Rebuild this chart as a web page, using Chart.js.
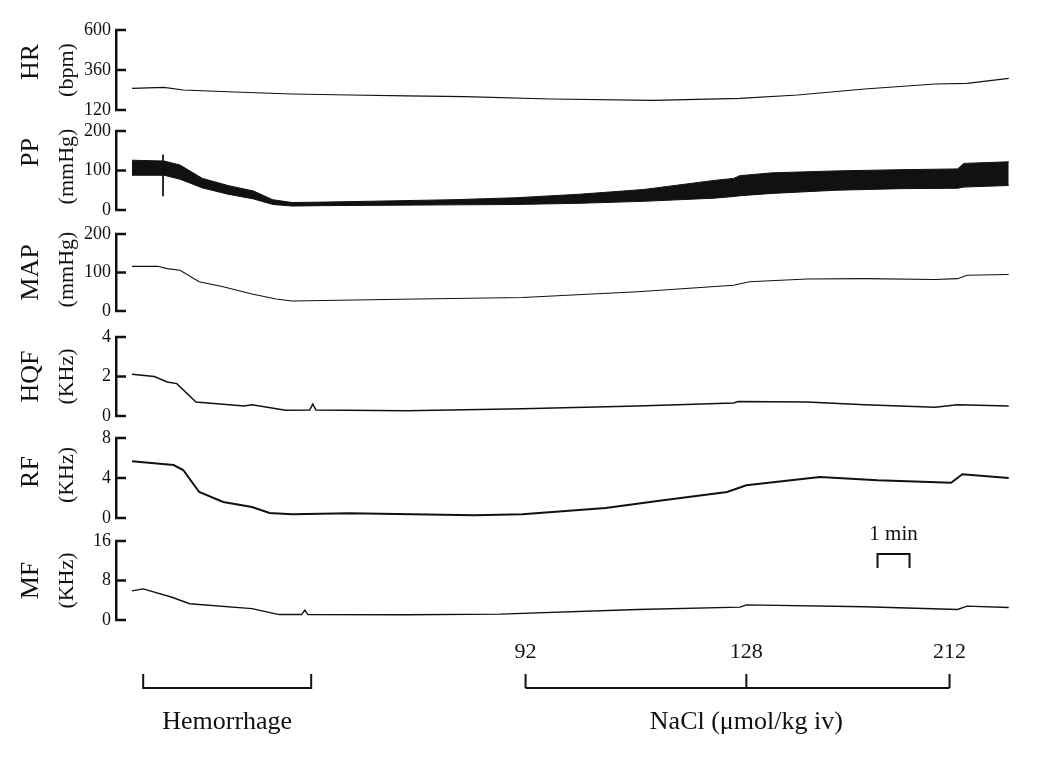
<!DOCTYPE html>
<html>
<head>
<meta charset="utf-8">
<title>Hemorrhage / NaCl recordings</title>
<script src="https://cdn.jsdelivr.net/npm/chart.js@4.4.1/dist/chart.umd.min.js"></script>
<style>
  body { margin: 0; background: #fff; }
  #wrap { position: relative; width: 1050px; height: 758px; overflow: hidden; background: #fff; }
  #wrap canvas { position: absolute; left: 0; }
</style>
</head>
<body>
<div id="wrap">
  <canvas id="hrChart"></canvas>
  <canvas id="ppChart"></canvas>
  <canvas id="mapChart"></canvas>
  <canvas id="hqfChart"></canvas>
  <canvas id="rfChart"></canvas>
  <canvas id="mfChart"></canvas>
</div>
<script>
// ===== DATA (time in minutes from start of recording) =====
const hrTime   = [0, 1.0, 1.6, 3.2, 5.0, 6.8, 8.6, 10.4, 13.1, 16.3, 19.0, 20.8, 22.9, 25.1, 26.1, 27.4];
const hrValues = [250, 256, 240, 228, 216, 210, 205, 200, 186, 178, 190, 210, 246, 276, 280, 310];

const ppTime  = [0, 1.0, 1.5, 2.2, 3.0, 3.8, 4.4, 5.0, 6.0, 8.0, 10.0, 12.0, 14.0, 16.0, 18.2, 18.8, 19.0, 20.0, 22.0, 24.0, 25.8, 26.0, 27.4];
const ppUpper = [126, 124, 114, 80, 62, 48, 26, 19, 20, 23, 26, 31, 40, 52, 75, 80, 87, 94, 99, 102, 104, 118, 122];
const ppLower = [88, 88, 78, 56, 40, 28, 14, 10, 11, 12, 13, 14, 17, 22, 30, 34, 36, 42, 50, 54, 55, 58, 62];
const ppArtifactTime = [0.97, 0.97];
const ppArtifact     = [140, 35];

const mapTime   = [0, 0.8, 1.1, 1.5, 2.1, 2.85, 3.75, 4.5, 5.0, 8.9, 12.2, 15.8, 18.8, 19.3, 21.1, 22.9, 25.1, 25.8, 26.1, 27.4];
const mapValues = [116, 116, 110, 106, 76, 63, 44, 31, 26, 31, 35, 50, 67, 76, 83, 84, 82, 84, 93, 95];

const hqfTime   = [0, 0.7, 1.1, 1.4, 2.0, 3.5, 3.75, 4.8, 5.55, 5.65, 5.75, 8.6, 12.2, 15.8, 18.8, 18.95, 21.1, 22.9, 25.1, 25.8, 27.4];
const hqfValues = [2.12, 2.0, 1.72, 1.64, 0.71, 0.51, 0.57, 0.29, 0.30, 0.6, 0.30, 0.27, 0.37, 0.51, 0.66, 0.73, 0.71, 0.57, 0.44, 0.57, 0.51];

const rfTime   = [0, 1.3, 1.6, 2.1, 2.85, 3.75, 4.3, 5.0, 6.8, 10.7, 12.2, 14.8, 16.6, 18.6, 19.2, 21.5, 23.3, 25.6, 25.95, 27.4];
const rfValues = [5.67, 5.3, 4.8, 2.6, 1.6, 1.1, 0.5, 0.37, 0.47, 0.27, 0.37, 1.0, 1.77, 2.6, 3.27, 4.1, 3.77, 3.53, 4.37, 4.0];

const mfTime   = [0, 0.35, 1.25, 1.8, 3.75, 4.6, 5.3, 5.4, 5.5, 8.6, 11.5, 15.8, 19.0, 19.2, 22.9, 25.8, 26.1, 27.4];
const mfValues = [5.9, 6.3, 4.6, 3.3, 2.3, 1.1, 1.1, 2.0, 1.1, 1.07, 1.2, 2.13, 2.6, 3.07, 2.67, 2.13, 2.8, 2.53];

// axis ranges: [min, max, step]
const hrTicks  = [120, 600, 240];
const ppTicks  = [0, 200, 100];
const mapTicks = [0, 200, 100];
const hqfTicks = [0, 4, 2];
const rfTicks  = [0, 8, 4];
const mfTicks  = [0, 16, 8];

// protocol markers (minutes)
const hemorrhageSpan  = [0.35, 5.6];
const naclDoseTimes   = [12.3, 19.2, 25.55];
const naclDoseLabels  = ['92', '128', '212'];
const scaleBarSpan    = [23.3, 24.3];


// ===== HELPERS =====
const SERIF = '"Liberation Serif", "Times New Roman", serif';
const INK = '#111';

function points(times, values) {
  return times.map((t, i) => ({ x: t, y: values[i] }));
}

function drawVertical(ctx, text, x, y, font) {
  ctx.save();
  ctx.translate(x, y);
  ctx.rotate(-Math.PI / 2);
  ctx.font = font;
  ctx.textAlign = 'center';
  ctx.textBaseline = 'middle';
  ctx.fillText(text, 0, 0);
  ctx.restore();
}

// short tick marks pointing into the plot, like the original recorder axes
const tickStubs = {
  id: 'tickStubs',
  afterDraw(chart) {
    const ctx = chart.ctx;
    const y = chart.scales.y;
    ctx.save();
    ctx.strokeStyle = INK;
    ctx.lineWidth = 2.5;
    y.ticks.forEach(t => {
      const py = y.getPixelForValue(t.value);
      ctx.beginPath();
      ctx.moveTo(y.right - 1, py);
      ctx.lineTo(y.right + 10, py);
      ctx.stroke();
    });
    ctx.restore();
  }
};

// rotated channel name + unit at the left; nameShift/unitShift nudge them up or down
const panelLabel = {
  id: 'panelLabel',
  afterDraw(chart, args, opts) {
    const { ctx, chartArea } = chart;
    const midY = (chartArea.top + chartArea.bottom) / 2;
    ctx.save();
    ctx.fillStyle = INK;
    drawVertical(ctx, opts.name, 31, midY + (opts.nameShift || 0), '26px ' + SERIF);
    drawVertical(ctx, opts.unit, 67, midY + (opts.unitShift || 0), '22px ' + SERIF);
    ctx.restore();
  }
};

// brackets under the traces + the 1 min scale bar
const protocolMarks = {
  id: 'protocolMarks',
  afterDraw(chart) {
    const { ctx, chartArea } = chart;
    const x = chart.scales.x;
    const base = chartArea.bottom;
    const lineY = base + 68;
    const legY = base + 54;

    ctx.save();
    ctx.strokeStyle = INK;
    ctx.fillStyle = INK;
    ctx.lineWidth = 2;

    // hemorrhage
    const h1 = x.getPixelForValue(hemorrhageSpan[0]);
    const h2 = x.getPixelForValue(hemorrhageSpan[1]);
    ctx.beginPath();
    ctx.moveTo(h1, legY); ctx.lineTo(h1, lineY); ctx.lineTo(h2, lineY); ctx.lineTo(h2, legY);
    ctx.stroke();

    // NaCl doses
    const nx = naclDoseTimes.map(t => x.getPixelForValue(t));
    ctx.beginPath();
    ctx.moveTo(nx[0], lineY); ctx.lineTo(nx[nx.length - 1], lineY);
    nx.forEach(px => { ctx.moveTo(px, legY); ctx.lineTo(px, lineY); });
    ctx.stroke();

    ctx.textAlign = 'center';
    ctx.textBaseline = 'middle';
    ctx.font = '22px ' + SERIF;
    nx.forEach((px, i) => ctx.fillText(naclDoseLabels[i], px, base + 32));

    ctx.font = '26px ' + SERIF;
    ctx.fillText('Hemorrhage', (h1 + h2) / 2, base + 102);
    ctx.fillText('NaCl (\u03bcmol/kg iv)', nx[1], base + 102);

    // 1 min scale bar
    const s1 = x.getPixelForValue(scaleBarSpan[0]);
    const s2 = x.getPixelForValue(scaleBarSpan[1]);
    ctx.beginPath();
    ctx.moveTo(s1, chartArea.top + 27); ctx.lineTo(s1, chartArea.top + 13);
    ctx.lineTo(s2, chartArea.top + 13); ctx.lineTo(s2, chartArea.top + 27);
    ctx.stroke();
    ctx.font = '21px ' + SERIF;
    ctx.fillText('1 min', (s1 + s2) / 2, chartArea.top - 7);

    ctx.restore();
  }
};


// ===== PANEL FACTORY =====
function makePanel(id, axisTop, axisBottom, ticks, datasets, label, opts = {}) {
  const padTop = opts.padTop || 12;
  const padBottom = opts.padBottom || 12;
  const canvas = document.getElementById(id);
  canvas.width = 1050;
  canvas.height = padTop + (axisBottom - axisTop) + padBottom;
  canvas.style.top = (axisTop - padTop) + 'px';

  const plugins = [tickStubs, panelLabel];
  if (opts.extra) plugins.push(opts.extra);

  return new Chart(canvas.getContext('2d'), {
    type: 'line',
    data: { datasets },
    options: {
      responsive: false,
      animation: false,
      layout: { padding: { left: 0, right: 40, top: padTop, bottom: padBottom } },
      elements: { point: { radius: 0 }, line: { tension: 0 } },
      plugins: {
        legend: { display: false },
        tooltip: { enabled: false },
        panelLabel: label
      },
      scales: {
        x: { type: 'linear', min: -0.5, max: 27.44, display: false },
        y: {
          min: ticks[0],
          max: ticks[1],
          ticks: { stepSize: ticks[2], padding: -3, color: INK, font: { family: SERIF, size: 18 } },
          grid: { display: false },
          border: { display: true, color: INK, width: 2.5 },
          afterFit(scale) { scale.width = 116; }
        }
      }
    },
    plugins
  });
}

function trace(times, values, width) {
  return { data: points(times, values), borderColor: INK, borderWidth: width, fill: false };
}


// ===== BUILD PANELS =====
makePanel('hrChart', 30, 110, hrTicks, [trace(hrTime, hrValues, 1.1)],
  { name: 'HR', unit: '(bpm)', nameShift: -8 });

makePanel('ppChart', 131, 210, ppTicks, [
  { data: points(ppTime, ppLower), borderColor: INK, borderWidth: 1, fill: false },
  { data: points(ppTime, ppUpper), borderColor: INK, borderWidth: 1, backgroundColor: INK, fill: '-1' },
  { data: points(ppArtifactTime, ppArtifact), borderColor: INK, borderWidth: 1, fill: false }
], { name: 'PP', unit: '(mmHg)', nameShift: -18, unitShift: -4 });

makePanel('mapChart', 234, 311, mapTicks, [trace(mapTime, mapValues, 1.1)],
  { name: 'MAP', unit: '(mmHg)', unitShift: -3 });

makePanel('hqfChart', 337, 416, hqfTicks, [trace(hqfTime, hqfValues, 1.5)],
  { name: 'HQF', unit: '(KHz)' });

makePanel('rfChart', 438, 518, rfTicks, [trace(rfTime, rfValues, 2)],
  { name: 'RF', unit: '(KHz)', nameShift: -6, unitShift: -3 });

makePanel('mfChart', 541, 620, mfTicks, [trace(mfTime, mfValues, 1.4)],
  { name: 'MF', unit: '(KHz)' },
  { padTop: 30, padBottom: 138, extra: protocolMarks });
</script>
</body>
</html>
